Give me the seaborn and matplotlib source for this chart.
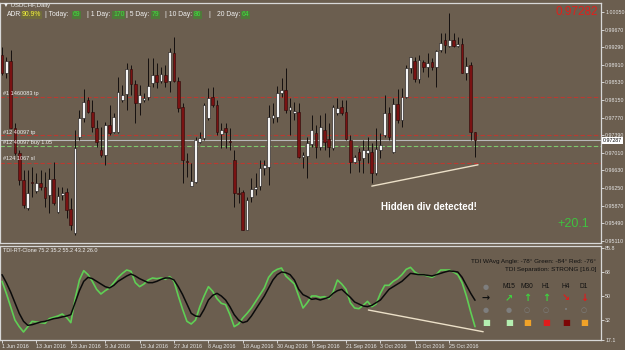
import matplotlib
matplotlib.use("Agg")
import matplotlib.pyplot as plt
import seaborn as sns
import numpy as np
import pandas as pd

# ---------------- data ----------------
opens = [0.9912, 0.9873, 0.9899, 0.9755, 0.9701, 0.9642, 0.9582, 0.9638, 0.9618, 0.9636,
         0.9627, 0.9610, 0.9644, 0.9573, 0.9610, 0.9616, 0.9580, 0.9528, 0.9735, 0.9776,
         0.9815, 0.9789, 0.9755, 0.9707, 0.9696, 0.9761, 0.9746, 0.9746, 0.9815, 0.9828,
         0.9882, 0.9850, 0.9809, 0.9815, 0.9821, 0.9852, 0.9869, 0.9856, 0.9869, 0.9856,
         0.9916, 0.9856, 0.9800, 0.9683, 0.9629, 0.9638, 0.9724, 0.9733, 0.9776, 0.9821,
         0.9804, 0.9742, 0.9755, 0.9726, 0.9685, 0.9614, 0.9616, 0.9534, 0.9606, 0.9623,
         0.9629, 0.9668, 0.9670, 0.9776, 0.9778, 0.9830, 0.9837, 0.9793, 0.9787, 0.9789,
         0.9692, 0.9694, 0.9720, 0.9744, 0.9714, 0.9750, 0.9731, 0.9711, 0.9787, 0.9800,
         0.9789, 0.9729, 0.9681, 0.9703, 0.9690, 0.9701, 0.9703, 0.9657, 0.9707, 0.9739,
         0.9787, 0.9703, 0.9806, 0.9772, 0.9821, 0.9884, 0.9899, 0.9860, 0.9897, 0.9886,
         0.9897, 0.9886, 0.9923, 0.9945, 0.9932, 0.9945, 0.9932, 0.9936, 0.9873, 0.9891,
         0.9746]
highs = [0.9929, 0.9908, 0.9923, 0.9765, 0.9707, 0.9664, 0.9664, 0.9670, 0.9657, 0.9664,
         0.9660, 0.9668, 0.9681, 0.9627, 0.9627, 0.9625, 0.9603, 0.9750, 0.9793, 0.9839,
         0.9821, 0.9815, 0.9772, 0.9757, 0.9768, 0.9804, 0.9787, 0.9865, 0.9847, 0.9895,
         0.9891, 0.9858, 0.9847, 0.9830, 0.9906, 0.9906, 0.9895, 0.9886, 0.9891, 0.9927,
         0.9951, 0.9865, 0.9809, 0.9701, 0.9679, 0.9735, 0.9746, 0.9809, 0.9841, 0.9843,
         0.9815, 0.9765, 0.9765, 0.9755, 0.9707, 0.9627, 0.9621, 0.9606, 0.9647, 0.9657,
         0.9685, 0.9685, 0.9804, 0.9809, 0.9845, 0.9863, 0.9884, 0.9819, 0.9811, 0.9809,
         0.9703, 0.9735, 0.9783, 0.9761, 0.9783, 0.9787, 0.9765, 0.9804, 0.9819, 0.9815,
         0.9815, 0.9739, 0.9696, 0.9711, 0.9729, 0.9735, 0.9722, 0.9755, 0.9744, 0.9826,
         0.9800, 0.9819, 0.9839, 0.9841, 0.9891, 0.9908, 0.9908, 0.9912, 0.9901, 0.9916,
         0.9906, 0.9923, 0.9960, 0.9960, 1.0003, 0.9960, 0.9951, 0.9949, 0.9908, 0.9897,
         0.9746]
lows = [0.9869, 0.9863, 0.9755, 0.9696, 0.9631, 0.9582, 0.9577, 0.9606, 0.9614, 0.9621,
        0.9584, 0.9571, 0.9588, 0.9571, 0.9599, 0.9560, 0.9534, 0.9523, 0.9729, 0.9768,
        0.9787, 0.9746, 0.9714, 0.9692, 0.9675, 0.9739, 0.9744, 0.9744, 0.9811, 0.9793,
        0.9826, 0.9765, 0.9783, 0.9811, 0.9815, 0.9843, 0.9841, 0.9852, 0.9843, 0.9832,
        0.9854, 0.9789, 0.9636, 0.9649, 0.9629, 0.9636, 0.9722, 0.9729, 0.9772, 0.9800,
        0.9739, 0.9711, 0.9711, 0.9707, 0.9584, 0.9593, 0.9534, 0.9534, 0.9595, 0.9610,
        0.9621, 0.9653, 0.9631, 0.9765, 0.9768, 0.9821, 0.9787, 0.9739, 0.9772, 0.9690,
        0.9668, 0.9647, 0.9714, 0.9690, 0.9707, 0.9707, 0.9692, 0.9707, 0.9783, 0.9783,
        0.9729, 0.9657, 0.9679, 0.9660, 0.9657, 0.9679, 0.9636, 0.9653, 0.9690, 0.9735,
        0.9729, 0.9701, 0.9765, 0.9757, 0.9819, 0.9873, 0.9854, 0.9852, 0.9876, 0.9865,
        0.9880, 0.9843, 0.9919, 0.9916, 0.9929, 0.9929, 0.9929, 0.9873, 0.9858, 0.9729,
        0.9692]
closes = [0.9873, 0.9899, 0.9755, 0.9701, 0.9642, 0.9588, 0.9614, 0.9636, 0.9636, 0.9627,
          0.9603, 0.9644, 0.9593, 0.9608, 0.9614, 0.9577, 0.9545, 0.9711, 0.9776, 0.9811,
          0.9789, 0.9757, 0.9724, 0.9696, 0.9761, 0.9744, 0.9778, 0.9832, 0.9826, 0.9882,
          0.9850, 0.9809, 0.9826, 0.9819, 0.9845, 0.9869, 0.9854, 0.9871, 0.9854, 0.9919,
          0.9856, 0.9798, 0.9685, 0.9681, 0.9640, 0.9729, 0.9733, 0.9804, 0.9819, 0.9804,
          0.9746, 0.9750, 0.9746, 0.9724, 0.9614, 0.9612, 0.9534, 0.9599, 0.9623, 0.9627,
          0.9668, 0.9675, 0.9778, 0.9783, 0.9830, 0.9837, 0.9793, 0.9800, 0.9791, 0.9692,
          0.9696, 0.9722, 0.9750, 0.9714, 0.9757, 0.9724, 0.9714, 0.9800, 0.9798, 0.9787,
          0.9731, 0.9681, 0.9692, 0.9685, 0.9707, 0.9707, 0.9657, 0.9709, 0.9718, 0.9787,
          0.9735, 0.9806, 0.9772, 0.9821, 0.9884, 0.9908, 0.9860, 0.9901, 0.9886, 0.9895,
          0.9886, 0.9921, 0.9938, 0.9934, 0.9945, 0.9932, 0.9936, 0.9873, 0.9888, 0.9746,
          0.9729]

tdi_green = [61, 52, 42, 32, 27, 23, 27, 31, 30.5, 30,
             29.5, 33, 34, 35, 36.5, 34, 30, 48, 62, 69,
             66, 61, 55, 51.5, 54, 56, 60, 64, 67, 69.5,
             68.5, 60, 57, 59, 62, 63.5, 63, 63.5, 62.5, 64.5,
             61, 50, 40, 31, 29, 32, 42, 50, 57, 53.5,
             48, 44.5, 43.5, 36, 27, 29, 33.5, 37, 41, 46,
             51, 56, 64, 68, 70, 71, 65, 62, 59, 50,
             41, 45, 50, 50, 49, 49.5, 48, 53, 62, 59,
             55, 45, 41, 40.5, 43, 46, 42, 44, 52, 58,
             58, 61, 63, 66, 70, 71.5, 68, 66, 66, 65,
             64, 66, 69.5, 69.5, 69.5, 68, 66, 60, 50, 38,
             27]
tdi_black = [66, 60, 53, 45, 37, 31, 28, 28.5, 29.5, 30.5,
             31, 32, 33, 33.5, 34.3, 35, 36, 45, 54, 61,
             64, 63, 61, 59, 57, 56, 58, 61, 63, 65,
             66.5, 65, 63, 61.5, 60, 60, 61, 62.5, 63.5, 63.5,
             62, 57, 51, 44, 37, 35, 34.5, 40, 47, 50.5,
             52, 50, 47, 42, 36, 32, 30, 31, 35, 40,
             45, 50, 56, 62, 66, 68, 67.5, 66, 62, 55,
             51, 49.5, 47.5, 48, 47, 48, 49, 52, 54, 55,
             52, 49, 45.5, 44, 42.5, 42, 43, 45, 47, 51,
             55, 57, 59, 61, 64, 67, 66.5, 66, 66, 65.5,
             65, 66, 67, 68, 68.8, 68.5, 68, 64, 58, 52,
             46.8]

date_bars = [0, 8, 16, 24, 32, 40, 48, 56, 64, 72, 80, 88, 96, 104]
date_labels = ["1 Jun 2016", "13 Jun 2016", "23 Jun 2016", "5 Jul 2016", "15 Jul 2016",
               "27 Jul 2016", "8 Aug 2016", "18 Aug 2016", "30 Aug 2016", "9 Sep 2016",
               "21 Sep 2016", "3 Oct 2016", "13 Oct 2016", "25 Oct 2016"]

price_ticks = [1.00050, 0.99670, 0.99290, 0.98910, 0.98530, 0.98150, 0.97770,
               0.97390, 0.97010, 0.96630, 0.96250, 0.95870, 0.95490, 0.95110]
tdi_ticks = [85.8, 68, 50, 32, 17.1]
tdi_tick_labels = ["85.8", "68", "50", "32", "17.1"]

order_prices = [0.9821, 0.9739, 0.9716, 0.9679]
order_labels = ["#1 1460083 tp", "#12 40097 tp", "#12 40097 buy 1.05", "#124 1067 sl"]
order_kinds = ["tp", "tp", "buy", "sl"]
bid_price = 0.97287

div_price_bars = [86.0, 110.7]
div_price_vals = [0.9629, 0.9675]
div_tdi_bars = [85.2, 111.9]
div_tdi_vals = [39.5, 23.2]

adr_parts = [("ADR:", None), ("90.9%", "adr"), ("| Today:", None), ("69", "v"),
             ("| 1 Day:", None), ("170", "v"), ("| 5 Day:", None), ("79", "v"),
             ("| 10 Day:", None), ("86", "v"), ("|", None), ("20 Day:", None), ("64", "v")]

tf_labels = ["", "M15", "M30", "H1", "H4", "D1"]
tf_arrows = ["→", "↗", "↑", "↑", "↘", "↓"]
tf_arrow_colors = ["#111111", "#3fd23f", "#3fd23f", "#3fd23f", "#e01c1c", "#e01c1c"]
tf_dots = ["●", "●", "○", "○", "•", "○"]
tf_square_colors = ["#b4eeb0", "#b4eeb0", "#f0a228", "#e01c1c", "#7c0606", "#f0a228"]

# ---------------- style ----------------
BG = "#6b5e4f"
LIGHT = "#e6e6e6"
sns.set_theme(style="dark", rc={"axes.facecolor": BG, "figure.facecolor": BG,
                                "savefig.facecolor": BG})
plt.rcParams["font.family"] = ["Liberation Sans", "DejaVu Sans"]

W, H = 625, 350
fig = plt.figure(figsize=(6.25, 3.5), dpi=100)


def fx(px):
    return px / W


def fy(py):
    return 1 - py / H


ax = fig.add_axes([0, fy(243), fx(601), fy(3) - fy(243)])
ax2 = fig.add_axes([0, fy(340), fx(601), fy(246) - fy(340)])

df = pd.DataFrame({"bar": np.arange(len(closes)), "open": opens, "high": highs,
                   "low": lows, "close": closes, "green": tdi_green, "black": tdi_black})

xlim = (-0.47, 139.3)

# ---------------- main candle panel ----------------
ax.vlines(df["bar"], df["low"], df["high"], color="#151010", lw=0.7, zorder=3)
up = df[df["close"] >= df["open"]]
dn = df[df["close"] < df["open"]]
ax.bar(up["bar"], up["close"] - up["open"], bottom=up["open"], width=0.62,
       color="#f4f4f4", edgecolor="#151010", linewidth=0.4, zorder=4)
ax.bar(dn["bar"], dn["open"] - dn["close"], bottom=dn["close"], width=0.62,
       color="#7a1212", edgecolor="#2a0808", linewidth=0.4, zorder=4)

for p, kind in zip(order_prices, order_kinds):
    if kind == "buy":
        ax.axhline(p, color="#7ec86e", lw=0.8, ls=(0, (4, 2)), zorder=2)
    else:
        ax.axhline(p, color="#b83a32", lw=0.8, ls=(0, (4, 2)), zorder=2)
ax.axhline(bid_price, color="#b9b9b9", lw=0.8, zorder=2)

sns.lineplot(x=div_price_bars, y=div_price_vals, ax=ax, color="#ece0c8", lw=1.0,
             zorder=5, legend=False)

ax.set_xlim(*xlim)
ax.set_ylim(0.95061, 1.00245)
ax.yaxis.tick_right()
ax.set_yticks(price_ticks)
ax.set_yticklabels([f"{t:.5f}" for t in price_ticks])
ax.tick_params(axis="y", colors=LIGHT, labelsize=3.8, length=2, width=0.6, pad=1.0,
               direction="out", right=True, left=False)
ax.set_xticks([])
ax.set_xlabel("")
ax.set_ylabel("")
for s in ax.spines.values():
    s.set_color("#d8d8d8")
    s.set_linewidth(0.9)
    s.set_visible(True)

# ---------------- TDI panel ----------------
sns.lineplot(data=df, x="bar", y="green", ax=ax2, color="#5fcf55", lw=1.2, zorder=3)
sns.lineplot(data=df, x="bar", y="black", ax=ax2, color="#0b0b0b", lw=1.1, zorder=4)
sns.lineplot(x=div_tdi_bars, y=div_tdi_vals, ax=ax2, color="#ece0c8", lw=1.0, zorder=5)
ax2.set_xlim(*xlim)
ax2.set_ylim(17.0, 87.5)
ax2.yaxis.tick_right()
ax2.set_yticks(tdi_ticks)
ax2.set_yticklabels(tdi_tick_labels)
ax2.tick_params(axis="y", colors=LIGHT, labelsize=3.8, length=2, width=0.6, pad=1.0,
                direction="out", right=True, left=False)
ax2.set_xticks(date_bars)
ax2.set_xticklabels(date_labels, ha="left")
ax2.tick_params(axis="x", colors=LIGHT, labelsize=3.9, length=2, width=0.6, pad=1.0,
                direction="out", bottom=True)
ax2.set_xlabel("")
ax2.set_ylabel("")
for s in ax2.spines.values():
    s.set_color("#d8d8d8")
    s.set_linewidth(0.9)
    s.set_visible(True)

# ---------------- texts ----------------
fig.text(fx(3), fy(6), "▼ USDCHF,Daily", fontsize=4.3, color="#f0f0f0", va="center")
adr_x = [7, 22, 45, 73, 87, 113, 126, 152, 165, 194, 208, 217, 242]
for (t, kind), px in zip(adr_parts, adr_x):
    if kind == "adr":
        fig.text(fx(px), fy(15), t, fontsize=4.9, color="#f2ef3c", va="center",
                 bbox=dict(boxstyle="square,pad=0.1", fc="#6f6b3c", ec="none"))
    elif kind == "v":
        fig.text(fx(px), fy(15), t, fontsize=4.9, color="#3ee03e", va="center",
                 bbox=dict(boxstyle="square,pad=0.1", fc="#4f7a3a", ec="none"))
    else:
        fig.text(fx(px), fy(15), t, fontsize=4.9, color="#f0f0f0", va="center")

fig.text(fx(598), fy(12), "0.97282", fontsize=8.5, color="#e0201c", ha="right", va="center")
fig.text(fx(589), fy(224), "+20.1", fontsize=9, color="#3fc23f", ha="right", va="center")
fig.text(fx(381), fy(207), "Hidden div detected!", fontsize=7, color="#ffffff",
         fontweight="bold", ha="left", va="center")

label_y = [94, 132, 142.6, 159]
for t, py in zip(order_labels, label_y):
    fig.text(fx(3), fy(py), t, fontsize=4.0, color="#f0f0f0", va="center")

# current price box on the axis
fig.text(fx(603), fy(140.5), f"{bid_price:.5f}", fontsize=3.8, color="#000000",
         va="center", ha="left",
         bbox=dict(boxstyle="square,pad=0.15", fc="#ffffff", ec="none"))

# TDI panel texts
fig.text(fx(3), fy(250), "TDI-RT-Clone 75.2 35.2 55.2 43.2 26.0", fontsize=4.0,
         color="#f0f0f0", va="center")
fig.text(fx(596), fy(261), "TDI WAvg Angle: -78° Green: -84° Red: -76°", fontsize=4.6,
         color="#111111", ha="right", va="center")
fig.text(fx(596), fy(270), "TDI Separation: STRONG [16.0]", fontsize=4.6,
         color="#111111", ha="right", va="center")

col_x = [486, 509, 527, 546, 566, 584]
for i, cx in enumerate(col_x):
    if tf_labels[i]:
        fig.text(fx(cx), fy(287), tf_labels[i], fontsize=4.8, color="#111111",
                 ha="center", va="center")
    else:
        fig.text(fx(cx), fy(287), "●", fontsize=5, color="#7e7e7e", ha="center",
                 va="center", family="DejaVu Sans")
    fig.text(fx(cx), fy(298), tf_arrows[i], fontsize=7, color=tf_arrow_colors[i],
             ha="center", va="center", fontweight="bold", family="DejaVu Sans")
    fig.text(fx(cx), fy(310), tf_dots[i], fontsize=5, color="#7e7e7e",
             ha="center", va="center", family="DejaVu Sans")
    fig.text(fx(cx), fy(323), "■", fontsize=6, color=tf_square_colors[i],
             ha="center", va="center", family="DejaVu Sans")

fig.savefig("out.png", dpi=100, facecolor=BG)
